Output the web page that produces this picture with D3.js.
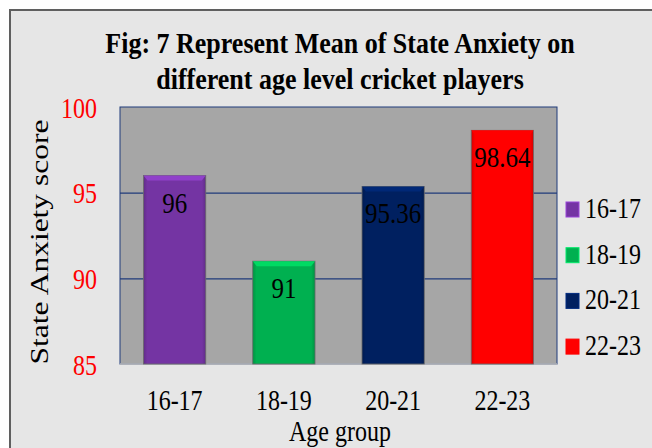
<!DOCTYPE html>
<html>
<head>
<meta charset="utf-8">
<script src="https://cdn.jsdelivr.net/npm/d3@7"></script>
<style>
  html, body { margin: 0; padding: 0; background: #fff; }
  svg { display: block; }
</style>
</head>
<body>
<script>
// data
var ageGroups = ["16-17", "18-19", "20-21", "22-23"];
var meanScores = [96, 91, 95.36, 98.64];
var barColors = ["#7434a3", "#00b050", "#002060", "#ff0000"];
var yTicks = [85, 90, 95, 100];
var titleLines = ["Fig: 7 Represent Mean of State Anxiety on", "different age level cricket players"];

var width = 652, height = 448;
var serif = "'Liberation Serif', 'Times New Roman', serif";
var SY = 1.22; // the source picture is stretched vertically

var svg = d3.select("body").append("svg")
    .attr("width", width)
    .attr("height", height);

// outer chart frame
svg.append("rect")
    .attr("x", 10).attr("y", 10)
    .attr("width", 660).attr("height", 460)
    .attr("fill", "#e6e6e6")
    .attr("stroke", "#5f5f5f")
    .attr("stroke-width", 2);

// stretched text helper
function label(x, y, txt, size, opts) {
    opts = opts || {};
    var t = svg.append("text")
        .attr("transform", "translate(" + x + "," + y + ")" + (opts.rotate ? " rotate(-90)" : "") +
              " scale(" + (opts.rotate ? (opts.sx || SY) : 1) + "," + (opts.rotate ? 1 : (opts.sy || SY)) + ")")
        .attr("font-family", serif)
        .attr("font-size", size)
        .attr("font-weight", opts.bold ? "bold" : "normal")
        .attr("fill", opts.fill || "#000")
        .attr("text-anchor", opts.anchor || "middle")
        .text(txt);
    return t;
}

var margin = {left: 120, right: 95, top: 107, bottom: 84};
var plotW = width - margin.left - margin.right;
var plotH = height - margin.top - margin.bottom;

var x = d3.scaleBand()
    .domain(ageGroups)
    .range([margin.left, margin.left + plotW])
    .paddingInner(0.43)
    .paddingOuter(0.215);

var y = d3.scaleLinear()
    .domain([85, 100])
    .range([margin.top + plotH, margin.top]);

// plot area
svg.append("rect")
    .attr("x", margin.left).attr("y", margin.top)
    .attr("width", plotW).attr("height", plotH)
    .attr("fill", "#a6a6a6")
    .attr("stroke", "#1f3a7a")
    .attr("stroke-width", 1);

// gridlines
svg.append("g")
    .attr("transform", "translate(" + margin.left + ",0)")
    .call(d3.axisLeft(y).tickValues(yTicks.slice(1, 3)).tickSize(-plotW).tickFormat(""))
    .call(function(g) {
        g.select(".domain").remove();
        g.selectAll("line").attr("stroke", "#1f3a7a").attr("stroke-width", 1.2);
    });

// bottom axis line
svg.append("line")
    .attr("x1", margin.left).attr("x2", margin.left + plotW)
    .attr("y1", y(85)).attr("y2", y(85))
    .attr("stroke", "#bdbdbd").attr("stroke-width", 1.5);

// bars with a slight bevel
var defs = svg.append("defs");
var bars = svg.append("g");
ageGroups.forEach(function(g, i) {
    var c = d3.color(barColors[i]);
    var grad = defs.append("linearGradient").attr("id", "bg" + i).attr("x1", 0).attr("x2", 1);
    grad.append("stop").attr("offset", 0).attr("stop-color", c.darker(0.5));
    grad.append("stop").attr("offset", 0.06).attr("stop-color", c);
    grad.append("stop").attr("offset", 0.94).attr("stop-color", c);
    grad.append("stop").attr("offset", 1).attr("stop-color", c.darker(0.5));

    var bx = x(g), bw = x.bandwidth(), by = y(meanScores[i]), bh = y(85) - by;
    bars.append("rect")
        .attr("x", bx).attr("y", by)
        .attr("width", bw).attr("height", bh)
        .attr("fill", "url(#bg" + i + ")")
        .attr("stroke", "#6a6a6a").attr("stroke-width", 0.8);
    bars.append("path")
        .attr("d", "M" + bx + "," + by + "h" + bw + "l-4,5h" + (-(bw - 8)) + "z")
        .attr("fill", c.brighter(0.6));
});

// value labels
ageGroups.forEach(function(g, i) {
    label(x(g) + x.bandwidth() / 2, y(meanScores[i]) + 37, String(meanScores[i]), 25);
});

// y tick labels
yTicks.forEach(function(v) {
    label(97, y(v) + 10.5, String(v), 24, {anchor: "end", fill: "#ff0000"});
});

// x tick labels
ageGroups.forEach(function(g) {
    label(x(g) + x.bandwidth() / 2, 410, g, 24);
});

// axis titles
label(340, 441, "Age group", 24);
label(48, 242, "State Anxiety score", 25, {rotate: true, sx: 1.26});

// title
label(340, 53, titleLines[0], 26, {bold: true, sy: 1.17});
label(340, 89, titleLines[1], 26, {bold: true, sy: 1.17});

// legend
var legend = svg.append("g");
ageGroups.forEach(function(g, i) {
    var ly = 218 + i * 45.7;
    var c = d3.color(barColors[i]);
    legend.append("rect")
        .attr("x", 566).attr("y", ly - 16)
        .attr("width", 13).attr("height", 15)
        .attr("fill", c)
        .attr("stroke", c.brighter(0.8)).attr("stroke-width", 1);
    label(585, ly, g, 24, {anchor: "start"});
});
</script>
</body>
</html>
